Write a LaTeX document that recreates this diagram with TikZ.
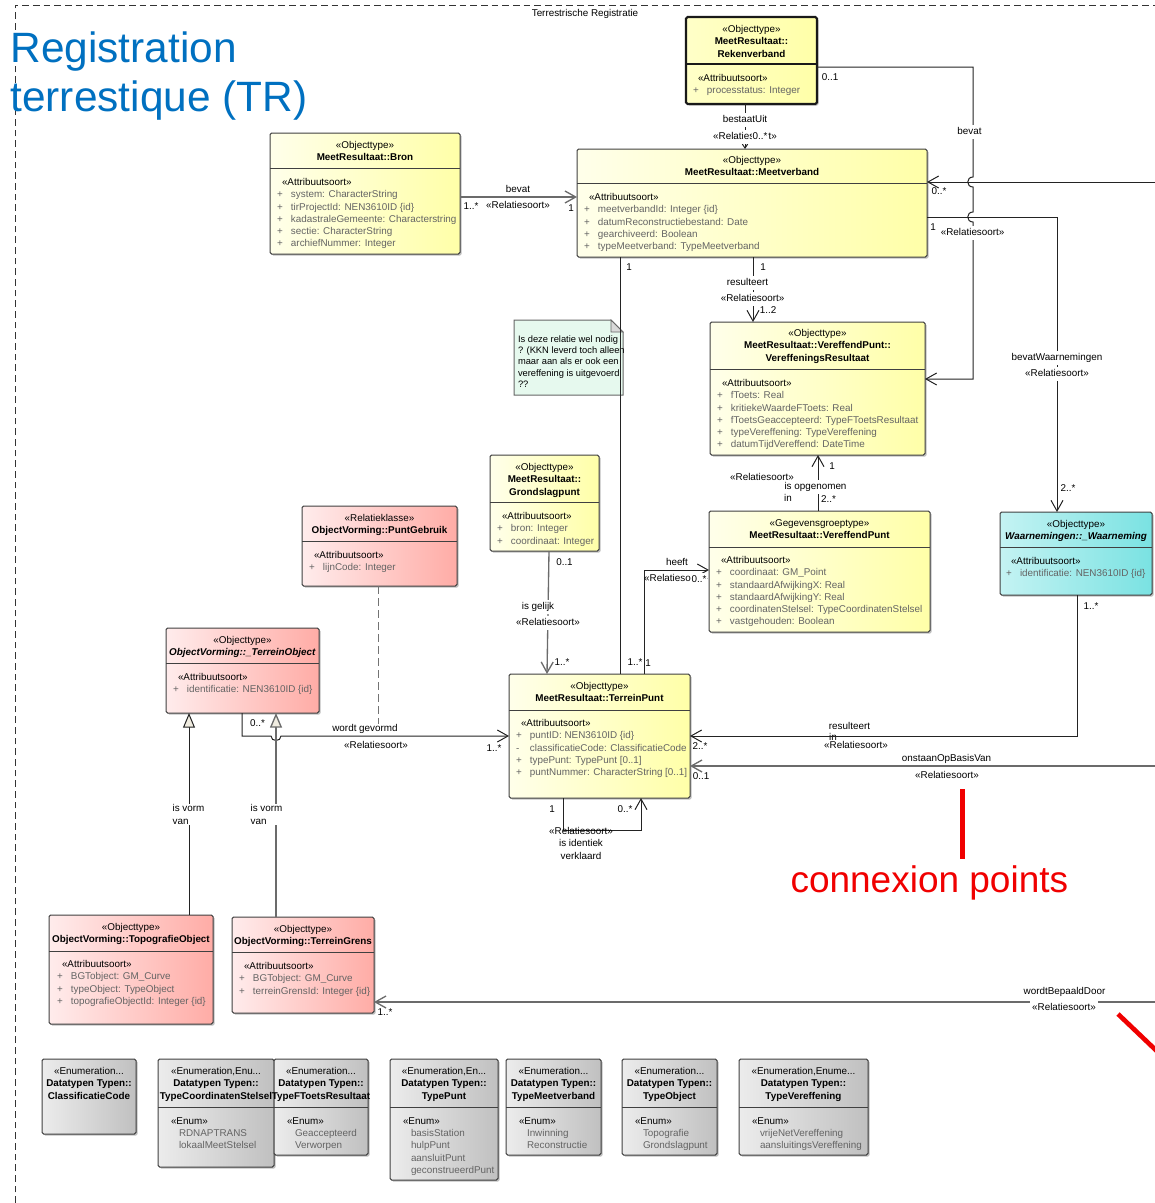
\documentclass[tikz,border=0pt]{standalone}
\usepackage{fontspec}
\setmainfont{Liberation Sans}
\usetikzlibrary{arrows.meta,shadows,fit}
\definecolor{ttlblue}{RGB}{0,112,192}
\definecolor{ylA}{RGB}{255,255,234}
\definecolor{ylB}{RGB}{255,255,168}
\definecolor{ylR}{RGB}{255,255,200}
\definecolor{rdA}{RGB}{255,236,236}
\definecolor{rdB}{RGB}{255,172,166}
\definecolor{cyA}{RGB}{196,243,243}
\definecolor{cyB}{RGB}{122,226,226}
\definecolor{gyA}{RGB}{236,236,236}
\definecolor{gyB}{RGB}{192,192,192}
\definecolor{noteF}{RGB}{230,249,238}
\definecolor{attrC}{RGB}{100,100,100}
\definecolor{lineC}{RGB}{35,35,35}
\definecolor{triF}{RGB}{240,236,224}
\definecolor{mkred}{RGB}{240,0,0}
\newcommand\fs{\fontsize{7.4}{9.2}\selectfont}
\newcommand\uattr[2]{{\color{attrC}\makebox[10.5pt][l]{#1}#2}}
\newcommand\ustl[1]{\hspace*{3.75pt}#1}
\newcommand\uev[1]{{\color{attrC}\hspace*{6pt}#1}}
\tikzset{
  nb/.style={inner sep=0pt, outer sep=0pt},
  clsbox/.style={nb, draw=black!75, line width=0.75pt, rounded corners=1.2pt,
     drop shadow={shadow xshift=1.2pt, shadow yshift=-1.2pt, opacity=0.25, fill=black}},
  ybox/.style={clsbox, left color=ylA, right color=ylB},
  rbox/.style={clsbox, left color=rdA, right color=rdB},
  cbox/.style={clsbox, left color=cyA, right color=cyB},
  gbox/.style={clsbox, left color=gyA, right color=gyB},
  div/.style={draw=black!75, line width=0.75pt},
  hdr/.style={nb, anchor=north, align=center, font=\fs},
  atr/.style={nb, anchor=north west, align=left, font=\fs},
  lbl/.style={nb, font=\fs, text height=6pt, text depth=1.8pt},
  wl/.style={lbl, fill=white, inner xsep=0.6pt, inner ysep=1pt},
  wl2/.style={nb, font=\fs, align=left, fill=white, inner sep=0.8pt},
  asc/.style={draw=lineC, line width=0.75pt},
  gasc/.style={draw=black!58, line width=1pt},
  opn/.style={-{Straight Barb[length=8pt,width=9pt]}},
  gen/.style={-{Triangle[length=11pt,width=9pt,fill=triF]}},
  frm/.style={draw=black!80, line width=0.75pt, dash pattern=on 5pt off 3pt},
}
\begin{document}
\begin{tikzpicture}[x=0.75pt,y=-0.75pt]
\useasboundingbox (0,0) rectangle (1155,1203);
% frame and titles
\draw[frm] (15,1203) -- (15,5) -- (1155,5);
\node[lbl] (frmlbl) at (585,14) {Terrestrische Registratie};
\node[nb, anchor=base west, text=ttlblue, font=\fontsize{31.8}{36}\selectfont] (ttl1) at (10.5,62.5) {Registration};
\node[nb, anchor=base west, text=ttlblue, font=\fontsize{31.8}{36}\selectfont] (ttl2) at (10.5,111.5) {terrestique (TR)};

% Rekenverband
\node[ybox, line width=1.6pt, draw=black!90, left color=ylR, fit={(686,17) (817,104)}] (rv) {};
\draw[div, line width=1.6pt, draw=black!90] (rv.west |- 0,64) -- (rv.east |- 0,64);
\node[hdr] (rv-h) at (751.5,25.5) {«Objecttype»\\\textbf{MeetResultaat::}\\\textbf{Rekenverband}};
\node[atr] (rv-a) at (693,74.5) {\ustl{«Attribuutsoort»}\\\uattr{+}{processtatus: Integer}};

% Meetverband
\node[ybox, fit={(577,149) (927,257)}] (mv) {};
\draw[div] (mv.west |- 0,183) -- (mv.east |- 0,183);
\node[hdr] (mv-h) at (752,156.5) {«Objecttype»\\\textbf{MeetResultaat::Meetverband}};
\node[atr] (mv-a) at (584,193.5) {\ustl{«Attribuutsoort»}\\\uattr{+}{meetverbandId: Integer \{id\}}\\\uattr{+}{datumReconstructiebestand: Date}\\\uattr{+}{gearchiveerd: Boolean}\\\uattr{+}{typeMeetverband: TypeMeetverband}};

% Bron
\node[ybox, fit={(270,133) (460,254)}] (bron) {};
\draw[div] (bron.west |- 0,168) -- (bron.east |- 0,168);
\node[hdr] (bron-h) at (365,141.5) {«Objecttype»\\\textbf{MeetResultaat::Bron}};
\node[atr] (bron-a) at (277,178.5) {\ustl{«Attribuutsoort»}\\\uattr{+}{system: CharacterString}\\\uattr{+}{tirProjectId: NEN3610ID \{id\}}\\\uattr{+}{kadastraleGemeente: Characterstring}\\\uattr{+}{sectie: CharacterString}\\\uattr{+}{archiefNummer: Integer}};

% VereffeningsResultaat
\node[ybox, fit={(710,322) (925,455)}] (vr) {};
\draw[div] (vr.west |- 0,369) -- (vr.east |- 0,369);
\node[hdr] (vr-h) at (817.5,329.5) {«Objecttype»\\\textbf{MeetResultaat::VereffendPunt::}\\\textbf{VereffeningsResultaat}};
\node[atr] (vr-a) at (717,379.5) {\ustl{«Attribuutsoort»}\\\uattr{+}{fToets: Real}\\\uattr{+}{kritiekeWaardeFToets: Real}\\\uattr{+}{fToetsGeaccepteerd: TypeFToetsResultaat}\\\uattr{+}{typeVereffening: TypeVereffening}\\\uattr{+}{datumTijdVereffend: DateTime}};

% VereffendPunt
\node[ybox, fit={(709,511) (930,632)}] (vp) {};
\draw[div] (vp.west |- 0,547) -- (vp.east |- 0,547);
\node[hdr] (vp-h) at (819.5,519.5) {«Gegevensgroeptype»\\\textbf{MeetResultaat::VereffendPunt}};
\node[atr] (vp-a) at (716,556.5) {\ustl{«Attribuutsoort»}\\\uattr{+}{coordinaat: GM\_Point}\\\uattr{+}{standaardAfwijkingX: Real}\\\uattr{+}{standaardAfwijkingY: Real}\\\uattr{+}{coordinatenStelsel: TypeCoordinatenStelsel}\\\uattr{+}{vastgehouden: Boolean}};

% Waarneming
\node[cbox, fit={(1000,512) (1152,595)}] (wa) {};
\draw[div] (wa.west |- 0,547) -- (wa.east |- 0,547);
\node[hdr] (wa-h) at (1076,520.5) {«Objecttype»\\\textbf{\textit{Waarnemingen::\_Waarneming}}};
\node[atr] (wa-a) at (1006,557.5) {\ustl{«Attribuutsoort»}\\\uattr{+}{identificatie: NEN3610ID \{id\}}};

% Grondslagpunt
\node[ybox, fit={(490,455) (599,551)}] (gp) {};
\draw[div] (gp.west |- 0,502) -- (gp.east |- 0,502);
\node[hdr] (gp-h) at (544.5,463.5) {«Objecttype»\\\textbf{MeetResultaat::}\\\textbf{Grondslagpunt}};
\node[atr] (gp-a) at (497,512.5) {\ustl{«Attribuutsoort»}\\\uattr{+}{bron: Integer}\\\uattr{+}{coordinaat: Integer}};

% TerreinPunt
\node[ybox, fit={(509,674) (690,798)}] (tp) {};
\draw[div] (tp.west |- 0,710) -- (tp.east |- 0,710);
\node[hdr] (tp-h) at (599.5,682.5) {«Objecttype»\\\textbf{MeetResultaat::TerreinPunt}};
\node[atr] (tp-a) at (516,719.5) {\ustl{«Attribuutsoort»}\\\uattr{+}{puntID: NEN3610ID \{id\}}\\\uattr{-}{classificatieCode: ClassificatieCode}\\\uattr{+}{typePunt: TypePunt [0..1]}\\\uattr{+}{puntNummer: CharacterString [0..1]}};

% PuntGebruik
\node[rbox, fit={(302,506) (457,586)}] (pg) {};
\draw[div] (pg.west |- 0,541) -- (pg.east |- 0,541);
\node[hdr] (pg-h) at (379.5,514.5) {«Relatieklasse»\\\textbf{ObjectVorming::PuntGebruik}};
\node[atr] (pg-a) at (309,551.5) {\ustl{«Attribuutsoort»}\\\uattr{+}{lijnCode: Integer}};

% TerreinObject
\node[rbox, fit={(166,628) (319,713)}] (to) {};
\draw[div] (to.west |- 0,663) -- (to.east |- 0,663);
\node[hdr] (to-h) at (242.5,636.5) {«Objecttype»\\\textbf{\textit{ObjectVorming::\_TerreinObject}}};
\node[atr] (to-a) at (173,673.5) {\ustl{«Attribuutsoort»}\\\uattr{+}{identificatie: NEN3610ID \{id\}}};

% TopografieObject
\node[rbox, fit={(49,915) (213,1024)}] (topo) {};
\draw[div] (topo.west |- 0,951) -- (topo.east |- 0,951);
\node[hdr] (topo-h) at (131,923.5) {«Objecttype»\\\textbf{ObjectVorming::TopografieObject}};
\node[atr] (topo-a) at (57,960.5) {\ustl{«Attribuutsoort»}\\\uattr{+}{BGTobject: GM\_Curve}\\\uattr{+}{typeObject: TypeObject}\\\uattr{+}{topografieObjectId: Integer \{id\}}};

% TerreinGrens
\node[rbox, fit={(232,917) (374,1013)}] (tg) {};
\draw[div] (tg.west |- 0,952) -- (tg.east |- 0,952);
\node[hdr] (tg-h) at (303,925.5) {«Objecttype»\\\textbf{ObjectVorming::TerreinGrens}};
\node[atr] (tg-a) at (239,962.5) {\ustl{«Attribuutsoort»}\\\uattr{+}{BGTobject: GM\_Curve}\\\uattr{+}{terreinGrensId: Integer \{id\}}};

% Enumerations
\node[gbox, fit={(42,1059) (136,1134)}] (e1) {};
\node[hdr] (e1-h) at (89,1067.5) {«Enumeration...\\\textbf{Datatypen Typen::}\\\textbf{ClassificatieCode}};

\node[gbox, fit={(158,1059) (274,1167)}] (e2) {};
\draw[div] (e2.west |- 0,1107) -- (e2.east |- 0,1107);
\node[hdr] (e2-h) at (216,1067.5) {«Enumeration,Enu...\\\textbf{Datatypen Typen::}\\\textbf{TypeCoordinatenStelsel}};
\node[atr] (e2-a) at (171,1117.5) {«Enum»\\\uev{RDNAPTRANS}\\\uev{lokaalMeetStelsel}};

\node[gbox, fit={(274,1059) (368,1155)}] (e3) {};
\draw[div] (e3.west |- 0,1107) -- (e3.east |- 0,1107);
\node[hdr] (e3-h) at (321,1067.5) {«Enumeration...\\\textbf{Datatypen Typen::}\\\textbf{TypeFToetsResultaat}};
\node[atr] (e3-a) at (287,1117.5) {«Enum»\\\uev{Geaccepteerd}\\\uev{Verworpen}};

\node[gbox, fit={(390,1059) (498,1180)}] (e4) {};
\draw[div] (e4.west |- 0,1107) -- (e4.east |- 0,1107);
\node[hdr] (e4-h) at (444,1067.5) {«Enumeration,En...\\\textbf{Datatypen Typen::}\\\textbf{TypePunt}};
\node[atr] (e4-a) at (403,1117.5) {«Enum»\\\uev{basisStation}\\\uev{hulpPunt}\\\uev{aansluitPunt}\\\uev{geconstrueerdPunt}};

\node[gbox, fit={(506,1059) (601,1155)}] (e5) {};
\draw[div] (e5.west |- 0,1107) -- (e5.east |- 0,1107);
\node[hdr] (e5-h) at (553.5,1067.5) {«Enumeration...\\\textbf{Datatypen Typen::}\\\textbf{TypeMeetverband}};
\node[atr] (e5-a) at (519,1117.5) {«Enum»\\\uev{Inwinning}\\\uev{Reconstructie}};

\node[gbox, fit={(622,1059) (717,1155)}] (e6) {};
\draw[div] (e6.west |- 0,1107) -- (e6.east |- 0,1107);
\node[hdr] (e6-h) at (669.5,1067.5) {«Enumeration...\\\textbf{Datatypen Typen::}\\\textbf{TypeObject}};
\node[atr] (e6-a) at (635,1117.5) {«Enum»\\\uev{Topografie}\\\uev{Grondslagpunt}};

\node[gbox, fit={(739,1059) (868,1155)}] (e7) {};
\draw[div] (e7.west |- 0,1107) -- (e7.east |- 0,1107);
\node[hdr] (e7-h) at (803.5,1067.5) {«Enumeration,Enume...\\\textbf{Datatypen Typen::}\\\textbf{TypeVereffening}};
\node[atr] (e7-a) at (752,1117.5) {«Enum»\\\uev{vrijeNetVereffening}\\\uev{aansluitingsVereffening}};

% Note
\draw[draw=black!60, fill=noteF, line width=0.75pt] (514,320) -- (611,320) -- (623,332) -- (623,395) -- (514,395) -- cycle;
\draw[draw=black!60, fill=black!15, line width=0.6pt] (611,320) -- (611,332) -- (623,332) -- cycle;
\node[nb, anchor=north west, align=left, font=\fontsize{7}{8.45}\selectfont] (note) at (518,335.5) {Is deze relatie wel nodig\\? (KKN leverd toch alleen\\maar aan als er ook een\\vereffening is uitgevoerd\\??};

\node[lbl] (l-in2) at (833,738) {in};

% Connectors
\coordinate (c-e1) at (1155,182);
\coordinate (c-e2) at (1155,766);
\coordinate (c-e3) at (1155,1002);
\draw[gasc,opn] (bron.east |- 0,197) -- (mv.west |- 0,197);
\draw[asc,-{Straight Barb[length=3pt,width=4pt]}] (rv.south -| 745,0) -- (mv.north -| 745,0);
\draw[asc,opn] (rv.east |- 0,67) -- (973,67) -- (973,177)
   .. controls (966,177) and (966,187) .. (973,187) -- (973,212)
   .. controls (966,212) and (966,222) .. (973,222) -- (973,379) -- (vr.east |- 0,379);
\draw[asc,opn] (c-e1) -- (mv.east |- c-e1);
\draw[asc,opn] (mv.east |- 0,217) -- (1057,217) -- (wa.north -| 1057,0);
\draw[asc,opn] (mv.south -| 753,0) -- (vr.north -| 753,0);
\draw[asc,opn] (vp.north -| 818,0) -- (vr.south -| 818,0);
\draw[asc,opn] (wa.south -| 1077,0) -- (1077,736) -- (tp.east |- 0,736);
\draw[gasc,opn] (c-e2) -- (tp.east |- c-e2);
\draw[asc,opn] (tp.south -| 563,0) -- (563,830) -- (641,830) -- (tp.south -| 641,0);
\draw[gasc,opn] (gp.south -| 549,0) -- (tp.north -| 547,0);
\draw[asc] (mv.south -| 620,0) -- (tp.north -| 620,0);
\draw[asc,opn] (tp.north -| 644,0) -- (644,570) -- (vp.west |- 0,570);
\draw[asc,opn] (to.south -| 242,0) -- (242,736) -- (271,736)
   .. controls (271,742) and (281,742) .. (281,736) -- (tp.west |- 0,736);
\draw[asc,gen] (topo.north -| 189,0) -- (to.south -| 189,0);
\draw[gasc,gen] (tg.north -| 276,0) -- (to.south -| 276,0);
\draw[gasc,opn] (c-e3) -- (tg.east |- c-e3);

% Labels
\node[lbl] (l1) at (518,190) {bevat};
\node[lbl] (l2) at (518,206) {«Relatiesoort»};
\node[lbl] (l3) at (471,207) {1..*};
\node[lbl] (l4) at (571,209) {1};
\node[wl] (l5) at (745,120) {bestaatUit};
\node[wl] (l6) at (745,137) {«Relatiesoort»};
\node[wl] (l7) at (760,137) {0..*};
\node[lbl] (l8) at (830,78) {0..1};
\node[wl] (l9) at (969.5,132) {bevat};
\node[lbl] (l10) at (939,192) {0..*};
\node[lbl] (l11) at (933,228) {1};
\node[wl] (l12) at (972.6,233) {«Relatiesoort»};
\node[wl] (l13) at (1057,358) {bevatWaarnemingen};
\node[wl] (l14) at (1057,374) {«Relatiesoort»};
\node[lbl] (l15) at (1068,489) {2..*};
\node[lbl] (l16) at (763,268) {1};
\node[wl] (l17) at (747.5,283) {resulteert};
\node[wl] (l18) at (752.6,299) {«Relatiesoort»};
\node[lbl] (l19) at (768,311) {1..2};
\node[lbl] (l20) at (629,268) {1};
\node[lbl] (l21) at (832,467) {1};
\node[lbl] (l22) at (762,478) {«Relatiesoort»};
\node[wl] (l23) at (815.5,487) {is opgenomen};
\node[lbl] (l24) at (788,499) {in};
\node[lbl] (l25) at (828.5,500) {2..*};
\node[lbl] (l26) at (677,563) {heeft};
\node[lbl] (l27) at (676,579) {«Relatiesoort»};
\node[wl] (l28) at (699,580) {0..*};
\node[lbl] (l29) at (564.5,563) {0..1};
\node[wl] (l30) at (538,607) {is gelijk};
\node[wl] (l31) at (548,623) {«Relatiesoort»};
\node[lbl] (l32) at (562,663) {1..*};
\node[lbl] (l33) at (635,663) {1..*};
\node[lbl] (l34) at (648,664) {1};
\node[lbl] (l35) at (700,747) {2..*};
\node[lbl] (l36) at (701,777) {0..1};
\node[lbl] (l37) at (849.5,727) {resulteert};
\node[lbl] (l38) at (856,746) {«Relatiesoort»};
\node[lbl] (l39) at (946.5,759) {onstaanOpBasisVan};
\node[lbl] (l40) at (947,776) {«Relatiesoort»};
\node[lbl] (l41) at (1091,607) {1..*};
\node[lbl] (l42) at (552,810) {1};
\node[lbl] (l43) at (625,810) {0..*};
\node[lbl] (l44) at (581,832) {«Relatiesoort»};
\node[lbl] (l45) at (581,844) {is identiek};
\node[lbl] (l46) at (581,857) {verklaard};
\node[lbl] (l47) at (257.5,724) {0..*};
\node[lbl] (wg) at (365,729) {wordt gevormd};
\node[lbl] (l48) at (376,746) {«Relatiesoort»};
\node[lbl] (l49) at (494,749) {1..*};
\node[wl2] (l50) at (188.5,814.5) {is vorm\\van};
\node[wl2] (l51) at (266.5,814.5) {is vorm\\van};
\node[lbl] (l52) at (385,1013) {1..*};
\node[lbl] (l53) at (1064.5,992) {wordtBepaaldDoor};
\node[wl, inner ysep=2pt, inner xsep=2pt] (l54) at (1064,1008) {«Relatiesoort»};

% dashed association-class link
\draw[draw=black!55, line width=0.75pt, dash pattern=on 6pt off 3pt] (pg.south -| 378,0) -- (wg.north -| 378,0);

% red markings
\fill[mkred] (959.5,789) rectangle (965,859);
\node[nb, anchor=base west, text=mkred, font=\fontsize{27.75}{32}\selectfont] (cpts) at (790.5,892) {connexion points};
\draw[mkred, line width=3.5pt] (1118,1014) -- (1162,1056);
\end{tikzpicture}
\end{document}
